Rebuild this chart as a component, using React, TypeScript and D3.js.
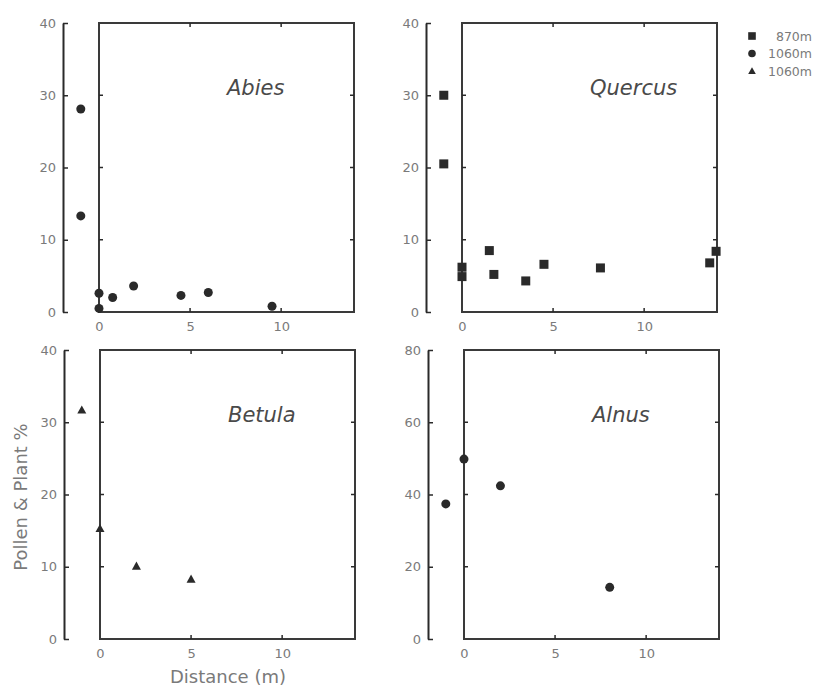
import React, { useEffect, useRef } from "react";
import * as d3 from "d3";

// values: distance (m) and pollen & plant %
const abiesX = [-1, -1, 0, 0, 0.75, 1.9, 4.5, 6, 9.5];
const abiesY = [28.1, 13.3, 2.6, 0.5, 2.0, 3.6, 2.3, 2.7, 0.8];

const quercusX = [-1, -1, 0, 0, 1.5, 1.75, 3.5, 4.5, 7.6, 13.6, 13.95];
const quercusY = [30, 20.5, 6.2, 4.9, 8.5, 5.2, 4.3, 6.6, 6.1, 6.8, 8.4];

const betulaX = [-1, 0, 2, 5];
const betulaY = [31.7, 15.3, 10.1, 8.3];

const alnusX = [-1, 0, 2, 8];
const alnusY = [37.4, 49.8, 42.4, 14.3];

const xTicks = [0, 5, 10];
const legendLabels = ["870m", "1060m", "1060m"];
const legendShapes = ["square", "circle", "triangle"];

const INK = "#2a2a2a";
const GREY = "#7a7a7a";
const FONT = "DejaVu Sans, sans-serif";

function drawMark(g, shape, cx, cy, s = 4.5) {
  if (shape === "square") {
    g.append("rect")
      .attr("x", cx - s).attr("y", cy - s)
      .attr("width", 2 * s).attr("height", 2 * s)
      .attr("fill", INK);
  } else if (shape === "circle") {
    g.append("circle").attr("cx", cx).attr("cy", cy).attr("r", s).attr("fill", INK);
  } else {
    g.append("path")
      .attr("d", `M${cx},${cy - s}L${cx + s},${cy + s * 0.8}L${cx - s},${cy + s * 0.8}Z`)
      .attr("fill", INK);
  }
}

export default function App() {
  const ref = useRef(null);

  useEffect(() => {
    const svg = d3.select(ref.current);
    svg.selectAll("*").remove();

    const panels = [
      { name: "Abies", xs: abiesX, ys: abiesY, shape: "circle", left: 99, top: 23, yMax: 40, yStep: 10 },
      { name: "Quercus", xs: quercusX, ys: quercusY, shape: "square", left: 462, top: 23, yMax: 40, yStep: 10 },
      { name: "Betula", xs: betulaX, ys: betulaY, shape: "triangle", left: 100, top: 350, yMax: 40, yStep: 10 },
      { name: "Alnus", xs: alnusX, ys: alnusY, shape: "circle", left: 464, top: 350, yMax: 80, yStep: 20 },
    ];
    const w = 255;
    const h = 289;

    panels.forEach(p => {
      const x = d3.scaleLinear().domain([0, 14]).range([p.left, p.left + w]);
      const y = d3.scaleLinear().domain([0, p.yMax]).range([p.top + h, p.top]);
      const yTicks = d3.range(0, p.yMax + 1, p.yStep);
      const g = svg.append("g");

      // detached y axis
      const ya = g.append("g")
        .attr("transform", `translate(${p.left - 36},0)`)
        .call(d3.axisLeft(y).tickValues(yTicks).tickSizeInner(-5).tickSizeOuter(0).tickPadding(7));
      ya.select(".domain").attr("stroke", INK).attr("stroke-width", 2);
      ya.selectAll(".tick line").attr("stroke", INK).attr("stroke-width", 1.5);
      ya.selectAll(".tick text").attr("fill", GREY).attr("font-size", 13).attr("font-family", FONT);

      // frame
      g.append("rect")
        .attr("x", p.left).attr("y", p.top)
        .attr("width", w).attr("height", h)
        .attr("fill", "none").attr("stroke", "#3a3a3a").attr("stroke-width", 2);

      // inner ticks
      xTicks.filter(t => t > 0).forEach(t => {
        g.append("line").attr("x1", x(t)).attr("x2", x(t)).attr("y1", p.top).attr("y2", p.top + 4)
          .attr("stroke", INK).attr("stroke-width", 1.5);
        g.append("line").attr("x1", x(t)).attr("x2", x(t)).attr("y1", p.top + h).attr("y2", p.top + h - 4)
          .attr("stroke", INK).attr("stroke-width", 1.5);
      });
      yTicks.filter(t => t > 0 && t < p.yMax).forEach(t => {
        g.append("line").attr("x1", p.left).attr("x2", p.left + 4).attr("y1", y(t)).attr("y2", y(t))
          .attr("stroke", INK).attr("stroke-width", 1.5);
        g.append("line").attr("x1", p.left + w).attr("x2", p.left + w - 4).attr("y1", y(t)).attr("y2", y(t))
          .attr("stroke", INK).attr("stroke-width", 1.5);
      });

      // x tick labels
      const xa = g.append("g")
        .attr("transform", `translate(0,${p.top + h})`)
        .call(d3.axisBottom(x).tickValues(xTicks).tickSize(0).tickPadding(10));
      xa.select(".domain").remove();
      xa.selectAll(".tick text").attr("fill", GREY).attr("font-size", 13).attr("font-family", FONT);

      // taxon label
      g.append("text")
        .attr("x", p.left + 128).attr("y", p.top + 72)
        .attr("font-family", FONT).attr("font-style", "italic").attr("font-size", 21)
        .attr("fill", "#4a4a4a")
        .text(p.name);

      // points
      p.xs.forEach((v, i) => drawMark(g, p.shape, x(v), y(p.ys[i])));
    });

    // axis titles
    svg.append("text")
      .attr("x", 228).attr("y", 683)
      .attr("text-anchor", "middle")
      .attr("font-family", FONT).attr("font-size", 18).attr("fill", GREY)
      .text("Distance (m)");

    svg.append("text")
      .attr("transform", "translate(27,497) rotate(-90)")
      .attr("text-anchor", "middle")
      .attr("font-family", FONT).attr("font-size", 18).attr("fill", GREY)
      .text("Pollen & Plant %");

    // legend
    const legendY = d3.scalePoint().domain(d3.range(legendLabels.length)).range([36, 71]);
    legendLabels.forEach((lab, i) => {
      drawMark(svg, legendShapes[i], 752, legendY(i), 3.8);
      svg.append("text")
        .attr("x", 812).attr("y", legendY(i) + 4.5)
        .attr("text-anchor", "end")
        .attr("font-family", FONT).attr("font-size", 12.5).attr("fill", GREY)
        .text(lab);
    });
  }, []);

  return (
    <svg ref={ref} width={814} height={686}
      style={{ position: "absolute", left: 0, top: 0, background: "#fff" }} />
  );
}
